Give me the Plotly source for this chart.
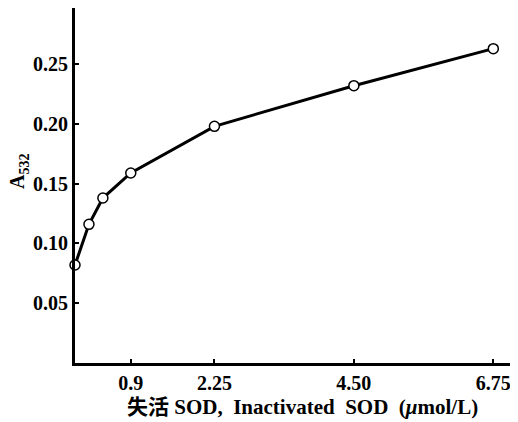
import plotly.graph_objects as go

conc = [0, 0.225, 0.45, 0.9, 2.25, 4.5, 6.75]
a532 = [0.082, 0.116, 0.138, 0.159, 0.198, 0.232, 0.263]
xtick_vals = [0.9, 2.25, 4.5, 6.75]
xtick_text = ["0.9", "2.25", "4.50", "6.75"]
ytick_vals = [0.05, 0.10, 0.15, 0.20, 0.25]
ytick_text = ["0.05", "0.10", "0.15", "0.20", "0.25"]

FONT = "Liberation Serif, Times New Roman, Noto Sans CJK SC, serif"

fig = go.Figure()
fig.add_trace(go.Scatter(
    x=conc, y=a532, mode="lines+markers",
    line=dict(color="black", width=3),
    marker=dict(symbol="circle", size=10, color="white",
                line=dict(color="black", width=1.5)),
    cliponaxis=False, showlegend=False,
))

# page body has an 8px margin, so the figure is sized/offset to compensate
fig.update_layout(
    width=510, height=414,
    margin=dict(l=67, r=3, t=0, b=59, autoexpand=False),
    paper_bgcolor="white", plot_bgcolor="white",
    font=dict(family=FONT, color="black", size=20),
    xaxis=dict(range=[0, 7.1], showgrid=False, zeroline=False, automargin=False,
               showline=True, linecolor="black", linewidth=3,
               ticks="inside", ticklen=4, tickwidth=2, tickcolor="black",
               tickvals=xtick_vals, ticktext=[f"<b>{t}</b>" for t in xtick_text],
               tickfont=dict(family=FONT, size=20)),
    yaxis=dict(range=[0, 0.297], showgrid=False, zeroline=False, automargin=False,
               showline=True, linecolor="black", linewidth=3,
               ticks="inside", ticklen=4, tickwidth=2, tickcolor="black",
               tickvals=ytick_vals, ticktext=[f"<b>{t}</b>" for t in ytick_text],
               tickfont=dict(family=FONT, size=20)),
)
fig.add_annotation(
    text="<b>失活 SOD,  Inactivated  SOD  (<i>μ</i>mol/L)</b>", showarrow=False,
    xref="paper", yref="paper", x=0.516, y=-0.124, xanchor="center", yanchor="middle",
    font=dict(family=FONT, size=21, color="black"),
)
fig.add_annotation(
    text="<b>A<sub>532</sub></b>", textangle=-90, showarrow=False,
    xref="paper", yref="paper", x=-0.128, y=0.54, xanchor="center", yanchor="middle",
    font=dict(family=FONT, size=20, color="black"),
)

fig.write_html("out.html")
